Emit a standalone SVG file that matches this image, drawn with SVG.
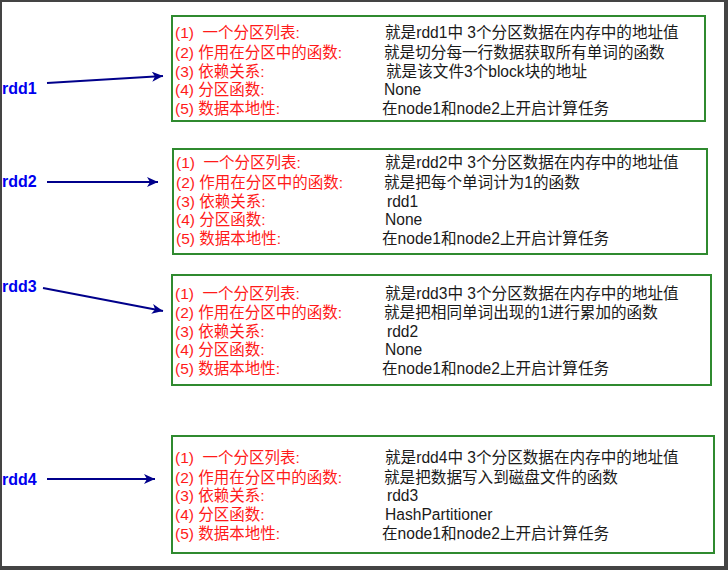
<svg xmlns="http://www.w3.org/2000/svg" width="728" height="570" viewBox="0 0 728 570">
<defs>
<marker id="ah" markerUnits="userSpaceOnUse" markerWidth="12" markerHeight="10" refX="11" refY="5" orient="auto">
<path d="M0,0 L11,5 L0,10 L3,5 z" fill="#00008b"/>
</marker>
<style>
.box{fill:#ffffff;stroke:#2f8a2f;stroke-width:2}
.r{font-family:"Liberation Sans","Noto Sans CJK SC",sans-serif;font-size:15.5px;fill:#ff1a1a;white-space:pre}
.k{font-family:"Liberation Sans","Noto Sans CJK SC",sans-serif;font-size:15.6px;fill:#1a1a1a}
.lbl{font-family:"Liberation Sans","Noto Sans CJK SC",sans-serif;font-size:16px;font-weight:bold;fill:#0000ee}
.arr{stroke:#00008b;stroke-width:2;fill:none;marker-end:url(#ah)}
</style>
</defs>
<rect x="0" y="0" width="728" height="570" fill="#ffffff"/>
<rect x="0" y="0" width="728" height="2" fill="#444444"/>
<rect x="0" y="0" width="2" height="570" fill="#444444"/>
<rect x="724" y="0" width="4" height="570" fill="#444444"/>
<rect x="0" y="566" width="728" height="4" fill="#444444"/>

<g id="connectors">
<line class="arr" x1="47" y1="83" x2="163" y2="76"/>
<line class="arr" x1="47" y1="182" x2="158" y2="182"/>
<line class="arr" x1="43" y1="288" x2="163" y2="311"/>
<line class="arr" x1="47" y1="479" x2="155" y2="479"/>
</g>

<g id="label-rdd1"><text class="lbl" x="2" y="94">rdd1</text></g>
<g id="label-rdd2"><text class="lbl" x="2" y="187">rdd2</text></g>
<g id="label-rdd3"><text class="lbl" x="2" y="292">rdd3</text></g>
<g id="label-rdd4"><text class="lbl" x="2" y="485">rdd4</text></g>

<g id="box-rdd1">
<rect class="box" x="172" y="16" width="533" height="105"/>
<text class="r" x="175" y="37.5" xml:space="preserve">(1)  一个分区列表:</text>
<text class="r" x="175" y="57.5">(2) 作用在分区中的函数:</text>
<text class="r" x="175" y="76.5">(3) 依赖关系:</text>
<text class="r" x="175" y="94.5">(4) 分区函数:</text>
<text class="r" x="175" y="113.5">(5) 数据本地性:</text>
<text class="k" x="385" y="37.5">就是rdd1中 3个分区数据在内存中的地址值</text>
<text class="k" x="384" y="57.5">就是切分每一行数据获取所有单词的函数</text>
<text class="k" x="386" y="76.5">就是该文件3个block块的地址</text>
<text class="k" x="384" y="94.5">None</text>
<text class="k" x="382" y="113.5">在node1和node2上开启计算任务</text>
</g>

<g id="box-rdd2">
<rect class="box" x="173" y="149" width="534" height="105"/>
<text class="r" x="176" y="167.5" xml:space="preserve">(1)  一个分区列表:</text>
<text class="r" x="176" y="187.5">(2) 作用在分区中的函数:</text>
<text class="r" x="176" y="206.5">(3) 依赖关系:</text>
<text class="r" x="176" y="224.5">(4) 分区函数:</text>
<text class="r" x="176" y="243.5">(5) 数据本地性:</text>
<text class="k" x="385" y="167.5">就是rdd2中 3个分区数据在内存中的地址值</text>
<text class="k" x="384" y="187.5">就是把每个单词计为1的函数</text>
<text class="k" x="387" y="206.5">rdd1</text>
<text class="k" x="385" y="224.5">None</text>
<text class="k" x="382" y="243.5">在node1和node2上开启计算任务</text>
</g>

<g id="box-rdd3">
<rect class="box" x="172" y="275" width="539" height="110"/>
<text class="r" x="175" y="298.5" xml:space="preserve">(1)  一个分区列表:</text>
<text class="r" x="175" y="317.5">(2) 作用在分区中的函数:</text>
<text class="r" x="175" y="336.5">(3) 依赖关系:</text>
<text class="r" x="175" y="354.5">(4) 分区函数:</text>
<text class="r" x="175" y="373.5">(5) 数据本地性:</text>
<text class="k" x="385" y="298.5">就是rdd3中 3个分区数据在内存中的地址值</text>
<text class="k" x="384" y="317.5">就是把相同单词出现的1进行累加的函数</text>
<text class="k" x="387" y="336.5">rdd2</text>
<text class="k" x="385" y="354.5">None</text>
<text class="k" x="382" y="373.5">在node1和node2上开启计算任务</text>
</g>

<g id="box-rdd4">
<rect class="box" x="172" y="436" width="542" height="117"/>
<text class="r" x="175" y="462.5" xml:space="preserve">(1)  一个分区列表:</text>
<text class="r" x="175" y="482.5">(2) 作用在分区中的函数:</text>
<text class="r" x="175" y="500.5">(3) 依赖关系:</text>
<text class="r" x="175" y="519.5">(4) 分区函数:</text>
<text class="r" x="175" y="538.5">(5) 数据本地性:</text>
<text class="k" x="385" y="462.5">就是rdd4中 3个分区数据在内存中的地址值</text>
<text class="k" x="384" y="482.5">就是把数据写入到磁盘文件的函数</text>
<text class="k" x="387" y="500.5">rdd3</text>
<text class="k" x="385" y="519.5">HashPartitioner</text>
<text class="k" x="382" y="538.5">在node1和node2上开启计算任务</text>
</g>
</svg>
